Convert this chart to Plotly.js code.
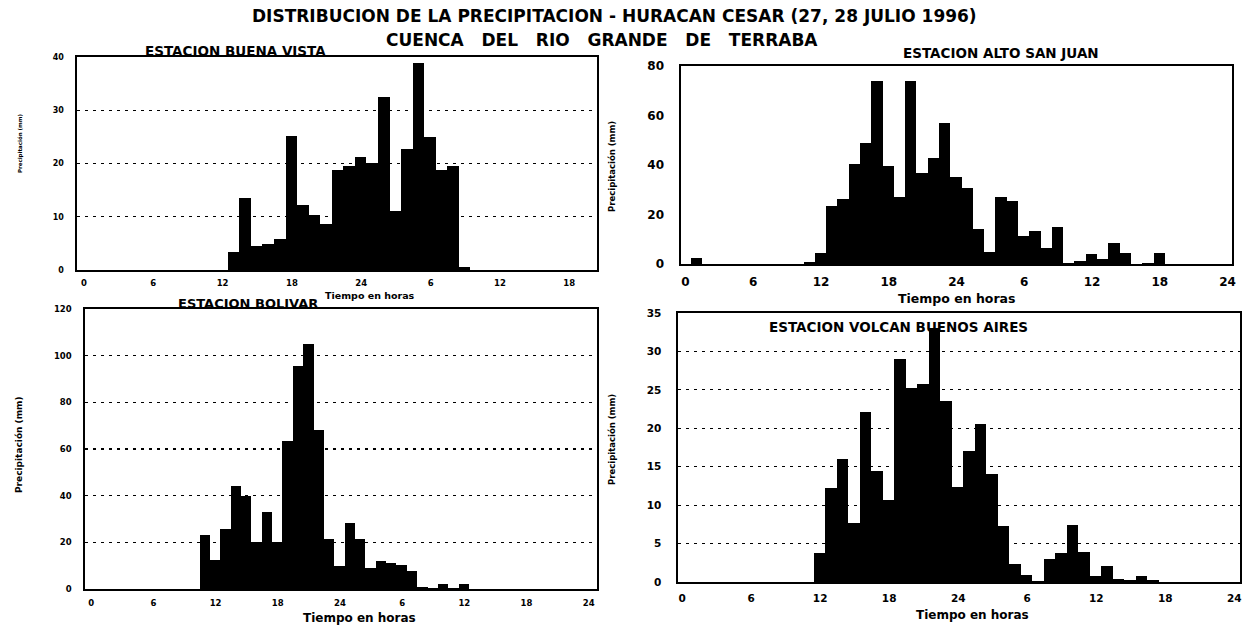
<!DOCTYPE html>
<html>
<head>
<meta charset="utf-8">
<script src="https://cdn.plot.ly/plotly-3.0.1.min.js"></script>
<style>html,body{margin:0;padding:0;background:#fff;}#chart{width:1250px;height:625px;}</style>
</head>
<body>
<div id="chart"></div>
<script>
// Hours 0..47 (27 and 28 July)
const hours = [0,1,2,3,4,5,6,7,8,9,10,11,12,13,14,15,16,17,18,19,20,21,22,23,24,25,26,27,28,29,30,31,32,33,34,35,36,37,38,39,40,41,42,43,44,45,46,47];

// Precipitation (mm) per hour
const buenaVista = [0,0,0,0,0,0,0,0,0,0,0,0,3.4,13.6,4.5,4.8,5.9,25.2,12.3,10.3,8.6,18.8,19.5,21.2,20.1,32.5,11.1,22.8,38.9,24.9,18.8,19.6,0.6,0,0,0,0,0,0,0,0,0,0,0,0,0,0,0];
const altoSanJuan = [2.5,0,0,0,0,0,0,0,0,0,1.0,4.3,23.6,26.3,40.4,48.8,74,39.4,27.2,74,36.7,42.7,56.9,35.3,30.9,14.2,5.0,27.2,25.6,11.5,13.3,6.3,14.8,0.3,1.4,4.2,1.9,8.4,4.3,0,0.5,4.3,0,0,0,0,0,0];
const bolivar = [0,0,0,0,0,0,0,0,0,0,23.3,12.6,25.7,44.3,40,20,32.9,20,63.6,95.4,105,68,21.5,10,28.5,21.5,9,12,11,10.3,7.8,1.0,0.5,2.2,0.5,2.2,0,0,0,0,0,0,0,0,0,0,0,0];
const volcanBA = [0,0,0,0,0,0,0,0,0,0,0,3.8,12.2,16,7.7,22.1,14.5,10.7,29,25.2,25.7,33,23.5,12.3,17,20.6,14,7.3,2.3,0.9,0.1,3.0,3.8,7.4,3.9,0.8,2.1,0.4,0.2,0.8,0.2,0,0,0,0,0,0,0];

// Tick labels
const xTickVals = [0,6,12,18,24,30,36,42,48];
const xTickText = ["0","6","12","18","24","6","12","18","24"];
const yTicksBV = [0,10,20,30,40];
const yTicksASJ = [0,20,40,60,80];
const yTicksBol = [0,20,40,60,80,100,120];
const yTicksVBA = [0,5,10,15,20,25,30,35];

const titleLine1 = "DISTRIBUCION DE LA PRECIPITACION - HURACAN CESAR (27, 28 JULIO 1996)";
const titleLine2 = "CUENCA\u00a0\u00a0 DEL\u00a0\u00a0 RIO\u00a0\u00a0 GRANDE\u00a0\u00a0 DE\u00a0\u00a0 TERRABA";
const stationNames = ["ESTACION BUENA VISTA","ESTACION ALTO SAN JUAN","ESTACION BOLIVAR","ESTACION VOLCAN BUENOS AIRES"];
const xTitle = "Tiempo en horas";
const yTitle = "Precipitación (mm)";

const W = 1250, H = 625;
const px = v => v / W;
const py = v => 1 - v / H;
const FONT = 'DejaVu Sans, sans-serif';

function bar(y, xa, ya) {
  return {type:'bar', x: hours, y: y, xaxis: xa, yaxis: ya,
    marker:{color:'#000', line:{width:0}}, width: 1, offset: 0.45, hoverinfo:'skip'};
}

function xax(d, r, fs, so, anchor) {
  return {domain:[px(d[0]), px(d[1])], range:r, anchor:anchor,
    showline:true, linecolor:'#000', linewidth:1.6, mirror:true, ticks:'',
    showgrid:false, zeroline:false, tickvals:xTickVals, ticktext:xTickText,
    ticklabelstandoff: so, fixedrange:true,
    tickfont:{family:FONT, size:fs, color:'#000', weight:'bold'}};
}
function yax(d, r, tv, fs, so, grid, anchor) {
  return {domain:[py(d[1]), py(d[0])], range:r, anchor:anchor,
    showline:true, linecolor:'#000', linewidth:1.6, mirror:true, ticks:'',
    showgrid:grid, gridcolor:'#000', gridwidth:1.2, griddash:'3px,5px', zeroline:false,
    tickvals:tv, ticklabelstandoff: so, fixedrange:true,
    tickfont:{family:FONT, size:fs, color:'#000', weight:'bold'}};
}

const data = [
  bar(buenaVista,'x','y'),
  bar(altoSanJuan,'x2','y2'),
  bar(bolivar,'x3','y3'),
  bar(volcanBA,'x4','y4')
];

function ann(text, x, y, size, opts) {
  return Object.assign({text:text, x:px(x), y:py(y), xref:'paper', yref:'paper',
    showarrow:false, xanchor:'center', yanchor:'middle',
    font:{family:FONT, size:size, color:'#000', weight:'bold'}}, opts||{});
}

const layout = {
  width: W, height: H,
  margin:{l:0,r:0,t:0,b:0},
  paper_bgcolor:'#fff', plot_bgcolor:'#fff',
  showlegend:false, bargap:0,
  xaxis: xax([77,597],[-0.6,44.4],8.5,4,'y'),
  yaxis: yax([57,270],[0,40],yTicksBV,8,10,true,'x'),
  xaxis2: xax([681,1232],[-0.4,48.4],12,6,'y2'),
  yaxis2: yax([66,264],[0,80],yTicksASJ,12,13,false,'x2'),
  xaxis3: xax([85,597],[-0.6,48.8],8.5,5,'y3'),
  yaxis3: yax([309,589],[0,120],yTicksBol,8.5,10,true,'x3'),
  xaxis4: xax([678,1240],[-0.36,48.5],10.5,6,'y4'),
  yaxis4: yax([313,582],[0,35],yTicksVBA,10.5,13,true,'x4'),
  annotations: [
    ann(titleLine1, 614, 16, 17),
    ann(titleLine2, 602, 40, 17),
    ann(stationNames[0], 235, 51, 13.5),
    ann(stationNames[1], 1001, 53, 13.5),
    ann(stationNames[2], 248, 303, 13),
    ann(stationNames[3], 899, 327, 13.5),
    ann(xTitle, 370, 295, 9.5),
    ann(xTitle, 957, 298, 12.5),
    ann(xTitle, 359, 618, 12),
    ann(xTitle, 972, 615, 12),
    ann(yTitle, 20, 143, 5.5, {textangle:-90}),
    ann(yTitle, 612, 167, 8.5, {textangle:-90}),
    ann(yTitle, 19, 445, 9, {textangle:-90}),
    ann(yTitle, 612, 440, 8.5, {textangle:-90})
  ]
};

Plotly.newPlot('chart', data, layout, {staticPlot:true, displayModeBar:false});
</script>
</body>
</html>
